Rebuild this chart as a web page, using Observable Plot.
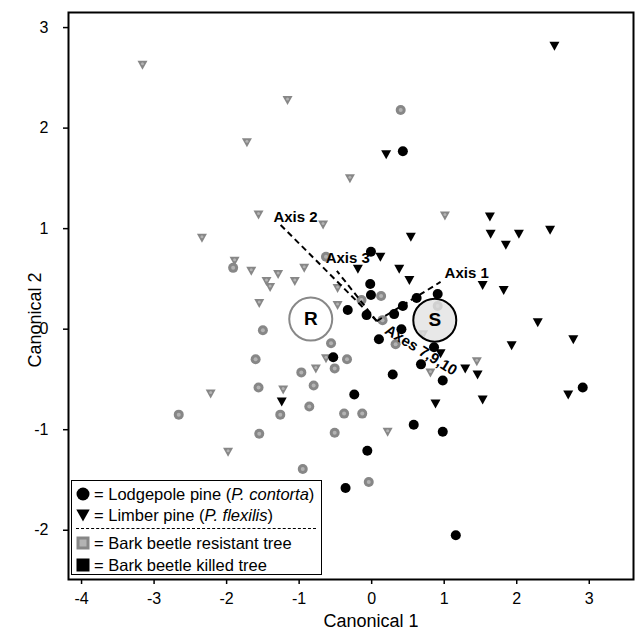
<!DOCTYPE html>
<html>
<head>
<meta charset="utf-8">
<script src="https://cdn.jsdelivr.net/npm/d3@7"></script>
<script src="https://cdn.jsdelivr.net/npm/@observablehq/plot@0.6"></script>
<style>
  html, body { margin: 0; padding: 0; background: #fff; }
  #wrap { position: relative; width: 635px; height: 634px; font-family: "Liberation Sans", Arial, sans-serif; }
  #legend { position: absolute; left: 71px; top: 480px; width: 249px; height: 93px; border: 1.5px solid #000; background: #fff; font-size: 16.5px; color: #000; box-sizing: content-box; }
  .row { position: absolute; left: 4px; height: 18px; line-height: 18px; white-space: nowrap; }
  .row svg { position: absolute; left: 0; top: 2px; }
  .row span { position: absolute; left: 18px; top: 0; }
  .dash { position: absolute; left: 4px; width: 240px; border-top: 1.3px dashed #000; }
  #ytitle { position: absolute; left: 35px; top: 320px; font-size: 18px; white-space: nowrap; color: #000;
            transform: translate(-50%, -50%) rotate(-90deg); line-height: 1; }
</style>
</head>
<body>
<div id="wrap"></div>
<script>
// ---- Data ----
const xTicks = [-4, -3, -2, -1, 0, 1, 2, 3];
const yTicks = [-2, -1, 0, 1, 2, 3];
const xTitle = "Canonical 1";
const yTitle = "Canonical 2";

// Lodgepole pine, bark beetle killed (black circles) [Canonical 1, Canonical 2]
const lodgepoleKilled = [
  [0.43, 1.77], [-0.01, 0.77], [-0.02, 0.45], [-0.01, 0.34], [-0.33, 0.19], [-0.07, 0.14],
  [0.31, 0.15], [0.43, 0.23], [0.62, 0.31], [0.91, 0.35], [0.41, 0.00], [0.10, -0.10],
  [0.86, -0.18], [0.68, -0.35], [0.98, -0.51], [0.29, -0.45], [-0.24, -0.65], [0.58, -0.95],
  [0.98, -1.02], [-0.06, -1.21], [-0.36, -1.58], [2.91, -0.58], [1.16, -2.05], [-0.53, -0.28]
];
// Lodgepole pine, resistant (gray circles)
const lodgepoleResistant = [
  [0.40, 2.18], [-0.63, 0.72], [-1.91, 0.61], [-1.50, -0.01], [-1.60, -0.30], [-1.56, -0.58],
  [-1.55, -1.04], [-2.66, -0.85], [-1.26, -0.85], [-0.86, -0.77], [-0.97, -0.43], [-0.80, -0.56],
  [-0.56, -0.14], [-0.51, -0.39], [-0.34, -0.30], [-0.38, -0.84], [-0.51, -1.03], [-0.95, -1.39],
  [-0.04, -1.52], [-0.13, -0.84], [0.33, -0.15], [0.15, 0.09], [0.91, 0.23], [-0.14, 0.29], [0.13, 0.33]
];
// Limber pine, bark beetle killed (black down-triangles)
const limberKilled = [
  [2.52, 2.83], [0.20, 1.75], [1.63, 1.13], [0.54, 0.93], [1.64, 0.96], [1.85, 0.85],
  [2.03, 0.96], [2.46, 1.00], [0.12, 0.73], [0.38, 0.61], [-0.19, 0.61], [0.52, 0.50],
  [1.53, 0.45], [1.82, 0.40], [2.29, 0.08], [2.78, -0.09], [1.93, -0.15], [1.29, -0.38],
  [1.46, -0.44], [2.71, -0.64], [1.53, -0.69], [0.88, -0.73], [0.95, -0.23], [-1.24, -0.71]
];
// Limber pine, resistant (gray down-triangles)
const limberResistant = [
  [-3.16, 2.64], [-1.16, 2.29], [-1.72, 1.87], [-0.30, 1.51], [-1.56, 1.15], [-0.67, 1.05],
  [-2.34, 0.92], [-1.89, 0.69], [-1.66, 0.59], [-1.45, 0.49], [-1.40, 0.43], [-1.29, 0.56],
  [-1.06, 0.49], [-0.93, 0.62], [-1.55, 0.27], [-0.47, 0.42], [-0.47, 0.25], [-0.63, -0.28],
  [-0.77, -0.38], [-1.22, -0.59], [-2.22, -0.63], [-1.98, -1.21], [0.22, -1.01], [0.71, -0.04],
  [0.81, -0.42], [1.45, -0.31], [1.01, 1.14]
];

// Group centroids
const centroidLabels = ["R", "S"];
const centroidX = [-0.84, 0.87];
const centroidY = [0.10, 0.09];

// Structure-coefficient vectors (dashed) from common origin
const vectorOrigin = [0.07, 0.08];
const vectorLabels = ["Axis 1", "Axis 2", "Axis 3"];
const vectorEndX = [0.95, -1.26, -0.48];
const vectorEndY = [0.47, 1.04, 0.58];
const vectorLabelX = [1.31, -1.05, -0.33];
const vectorLabelY = [0.56, 1.11, 0.71];
const rotatedLabel = ["Axes 7,9,10"];
const rotatedLabelX = [0.68];
const rotatedLabelY = [-0.21];

// Legend entries
const legendLabels = [
  ["= Lodgepole pine (", "P. contorta", ")"],
  ["= Limber pine (", "P. flexilis", ")"],
  ["= Bark beetle resistant tree"],
  ["= Bark beetle killed tree"]
];

// ---- Build tables ----
const toRows = arr => arr.map(([x, y]) => ({x, y}));
const centroids = centroidLabels.map((label, i) => ({label, x: centroidX[i], y: centroidY[i]}));
const vectors = vectorLabels.map((label, i) => ({
  label, x1: vectorOrigin[0], y1: vectorOrigin[1], x2: vectorEndX[i], y2: vectorEndY[i],
  lx: vectorLabelX[i], ly: vectorLabelY[i]
}));
const rotLabels = rotatedLabel.map((label, i) => ({label, x: rotatedLabelX[i], y: rotatedLabelY[i]}));

// Downward-pointing triangle symbol
const triangleDown = {
  draw(context, size) {
    const r = Math.sqrt(size / Math.PI);
    context.moveTo(-r, -0.6 * r);
    context.lineTo(r, -0.6 * r);
    context.lineTo(0, 1.2 * r);
    context.closePath();
  }
};

const GRAY = "#878787";
const INNER = "#b3b3b3";
const FONT = "Liberation Sans, Arial, sans-serif";
const fmt = d => String(d);

const chart = Plot.plot({
  width: 635,
  height: 634,
  marginLeft: 68,
  marginTop: 12,
  marginRight: 2,
  marginBottom: 55,
  style: {fontFamily: FONT, fontSize: "16px", color: "#000", background: "#fff"},
  x: {domain: [-4.18, 3.61]},
  y: {domain: [-2.49, 3.15]},
  marks: [
    Plot.axisX(xTicks, {tickSize: 5, tickPadding: 8, tickFormat: fmt, label: null, fontSize: 16, strokeWidth: 1.5}),
    Plot.axisY(yTicks, {tickSize: 5, tickPadding: 15, tickFormat: fmt, label: null, fontSize: 16, strokeWidth: 1.5}),
    // resistant points (gray with lighter centre)
    Plot.dot(toRows(lodgepoleResistant), {x: "x", y: "y", r: 5, fill: GRAY}),
    Plot.dot(toRows(lodgepoleResistant), {x: "x", y: "y", r: 2, fill: INNER}),
    Plot.dot(toRows(limberResistant), {x: "x", y: "y", r: 5, symbol: triangleDown, fill: GRAY}),
    Plot.dot(toRows(limberResistant), {x: "x", y: "y", r: 1.5, fill: INNER}),
    // killed points (black)
    Plot.dot(toRows(lodgepoleKilled), {x: "x", y: "y", r: 5, fill: "#000"}),
    Plot.dot(toRows(limberKilled), {x: "x", y: "y", r: 5, symbol: triangleDown, fill: "#000"}),
    // dashed vectors
    Plot.link(vectors, {x1: "x1", y1: "y1", x2: "x2", y2: "y2", stroke: "#000", strokeWidth: 2, strokeDasharray: "6,4"}),
    Plot.text(vectors, {x: "lx", y: "ly", text: "label", fontWeight: "bold", fontSize: 15, fill: "#000"}),
    Plot.text(rotLabels, {x: "x", y: "y", text: "label", rotate: 32, fontWeight: "bold", fontSize: 15, fill: "#000"}),
    // centroids
    Plot.dot(centroids, {x: "x", y: "y", r: 21.5,
      fill: d => d.label === "S" ? "#e2e2e2" : "#fff",
      fillOpacity: d => d.label === "S" ? 0.8 : 1,
      stroke: d => d.label === "S" ? "#000" : "#888", strokeWidth: 2}),
    Plot.text(centroids, {x: "x", y: "y", text: "label", fontWeight: "bold", fontSize: 19, fill: "#000"}),
    // frame
    Plot.frame({stroke: "#000", strokeWidth: 2}),
    // x axis title
    Plot.text([xTitle], {text: d => d, frameAnchor: "bottom", dx: 20, dy: 47, fontSize: 18, fill: "#000"})
  ]
});

const wrap = document.getElementById("wrap");
wrap.appendChild(chart);

// y axis title (rotated)
const yt = document.createElement("div");
yt.id = "ytitle";
yt.textContent = yTitle;
wrap.appendChild(yt);

// ---- Legend overlay ----
const legend = document.createElement("div");
legend.id = "legend";
const rowTops = [4, 25, 53, 75];
const symbols = [
  '<svg width="14" height="14"><circle cx="7" cy="7" r="6.5" fill="#000"/></svg>',
  '<svg width="14" height="14"><path d="M0.3,1.5 L13.7,1.5 L7,13.5 Z" fill="#000"/></svg>',
  '<svg width="14" height="14"><rect x="0.5" y="0.5" width="13" height="13" fill="' + GRAY + '"/><rect x="3.5" y="3.5" width="7" height="7" fill="' + INNER + '"/></svg>',
  '<svg width="14" height="14"><rect x="0.5" y="0.5" width="13" height="13" fill="#000"/></svg>'
];
legendLabels.forEach((parts, i) => {
  const row = document.createElement("div");
  row.className = "row";
  row.style.top = rowTops[i] + "px";
  const span = document.createElement("span");
  span.appendChild(document.createTextNode(parts[0]));
  if (parts.length > 1) {
    const it = document.createElement("i");
    it.textContent = parts[1];
    span.appendChild(it);
    span.appendChild(document.createTextNode(parts[2]));
  }
  row.innerHTML = symbols[i];
  row.appendChild(span);
  legend.appendChild(row);
});
const dash = document.createElement("div");
dash.className = "dash";
dash.style.top = "47px";
legend.appendChild(dash);
wrap.appendChild(legend);
</script>
</body>
</html>
